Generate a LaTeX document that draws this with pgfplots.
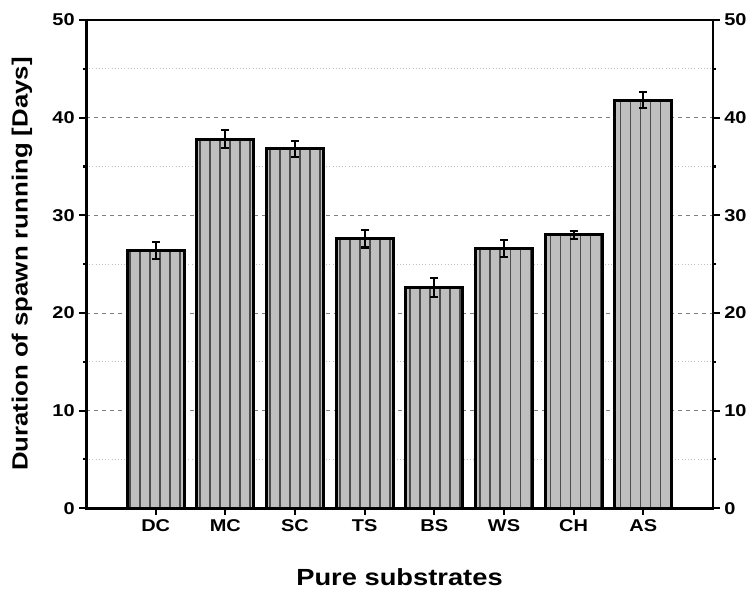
\documentclass[border=0pt]{standalone}
\usepackage{fontspec}
\setmainfont{Liberation Sans}
\newfontfamily\wide[FakeStretch=1.17]{Liberation Sans}
\usepackage{pgfplots}
\pgfplotsset{compat=1.18}
\usetikzlibrary{patterns.meta}

\pgfplotsset{
  base/.style={
    scale only axis, width=470pt, height=366pt,
    xmin=0, xmax=9, ymin=0, ymax=50,
    ytick={0,10,...,50}, minor y tick num=1,
    tick align=outside, major tick length=5pt, minor tick length=2pt,
    axis line style={line width=2.2pt},
    every tick/.style={black, line width=1.6pt},
    /pgf/number format/assume math mode=true,
    tick label style={font=\wide\fontsize{12.8}{14}\selectfont\bfseries},
  }
}

\begin{document}
\begin{tikzpicture}
\begin{axis}[base, name=main,
  xtick={1,...,8}, xticklabels={DC,MC,SC,TS,BS,WS,CH,AS},
  xtick pos=bottom, ytick pos=left,
  ymajorgrids, yminorgrids,
  major grid style={dashed, gray, line width=0.6pt},
  minor grid style={dotted, gray!50, line width=0.6pt},
  xlabel={Pure substrates},
  ylabel={Duration of spawn running [Days]},
  x label style={font=\wide\fontsize{17.5}{19}\selectfont\bfseries,
    at={(axis description cs:0.5,-0.141)}, anchor=center},
  y label style={font=\wide\fontsize{16.5}{18}\selectfont\bfseries,
    at={(axis description cs:-0.102,0.5)}, anchor=center, rotate=0},
]
\addplot[ybar, bar width=42.75pt, draw=black, line width=2.2pt,
  preaction={fill=black!25},
  pattern={Lines[angle=90,distance=7.5pt,line width=1.1pt]}, pattern color=black!70,
  error bars/.cd, y dir=both, y explicit,
  error bar style={line width=1.6pt, black, solid},
  error mark options={rotate=90, mark size=3pt, line width=1.6pt, black}]
coordinates {
  (1,26.4) +- (0,0.85)
  (2,37.8) +- (0,0.9)
  (3,36.8) +- (0,0.8)
  (4,27.6) +- (0,0.9)
  (5,22.6) +- (0,0.95)
  (6,26.6) +- (0,0.85)
  (7,28.0) +- (0,0.4)
  (8,41.8) +- (0,0.85)
};
\end{axis}
\begin{axis}[base,
  axis x line=none, axis y line*=right,
  ytick pos=right, yticklabel pos=right,
]
\end{axis}
\path ([shift={(-64.5pt,-60.75pt)}]main.south west) rectangle ([shift={(32.25pt,15pt)}]main.north east);
\end{tikzpicture}
\end{document}
